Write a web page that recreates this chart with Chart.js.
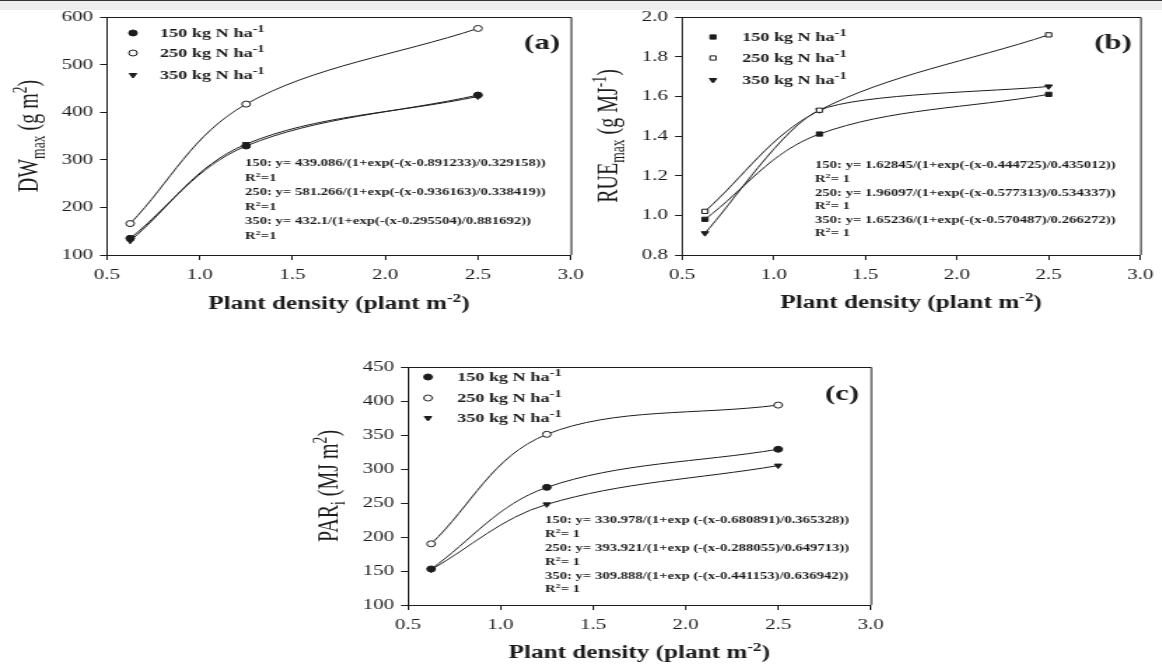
<!DOCTYPE html>
<html>
<head>
<meta charset="utf-8">
<script src="https://cdn.jsdelivr.net/npm/chart.js@4.4.0/dist/chart.umd.min.js"></script>
<style>
  html, body { margin: 0; padding: 0; background: #fff; }
  body { width: 1162px; height: 666px; position: relative; overflow: hidden; }
  .topbar { position: absolute; left: 0; top: 0; width: 1162px; height: 9px; background: #eeeeee; border-top: 1px solid #333; }
  canvas { position: absolute; transform-origin: 0 0; }
</style>
</head>
<body>
<div class="topbar"></div>
<canvas id="dw"></canvas>
<canvas id="rue"></canvas>
<canvas id="par"></canvas>
<script>
// plant density levels (plant m-2)
const density = [0.625, 1.25, 2.5];

// (a) maximum dry weight, g m-2
const dwN150 = [135, 329, 436];
const dwN250 = [166, 417, 576];
const dwN350 = [130, 333, 433];

// (b) maximum radiation use efficiency, g MJ-1
const rueN150 = [0.98, 1.41, 1.61];
const rueN250 = [1.02, 1.53, 1.91];
const rueN350 = [0.91, 1.53, 1.65];

// (c) intercepted PAR, MJ m-2
const parN150 = [153, 273, 329];
const parN250 = [190, 351, 394];
const parN350 = [152, 248, 305];

const nLabel = ['150 kg N ha', '250 kg N ha', '350 kg N ha'];

const eqA = [
  '150: y= 439.086/(1+exp(-(x-0.891233)/0.329158))',
  '250: y= 581.266/(1+exp(-(x-0.936163)/0.338419))',
  '350: y= 432.1/(1+exp(-(x-0.295504)/0.881692))'
];
const eqB = [
  '150: y= 1.62845/(1+exp(-(x-0.444725)/0.435012))',
  '250: y= 1.96097/(1+exp(-(x-0.577313)/0.534337))',
  '350: y= 1.65236/(1+exp(-(x-0.570487)/0.266272))'
];
const eqC = [
  '150: y= 330.978/(1+exp (-(x-0.680891)/0.365328))',
  '250: y= 393.921/(1+exp (-(x-0.288055)/0.649713))',
  '350: y= 309.888/(1+exp (-(x-0.441153)/0.636942))'
];

const WIDE = 1.4;   // the whole figure is drawn stretched sideways
const SERIF = '"Liberation Serif", "Times New Roman", serif';
const INK = '#1c1c1c';

// draw text made of normal / superscript / subscript pieces
function drawRich(ctx, parts, x, y, size, weight, align, small) {
  small = small || 0.68;
  const pieces = parts.map(([t, k]) => {
    const s = k === 'n' ? size : size * small;
    ctx.font = weight + ' ' + s + 'px ' + SERIF;
    return { t, k, s, w: ctx.measureText(t).width };
  });
  const total = pieces.reduce((a, p) => a + p.w, 0);
  let cx = align === 'center' ? x - total / 2 : x;
  const base = y + size * 0.33;
  ctx.textAlign = 'left';
  ctx.textBaseline = 'alphabetic';
  ctx.fillStyle = INK;
  pieces.forEach(p => {
    ctx.font = weight + ' ' + p.s + 'px ' + SERIF;
    const dy = p.k === 'sup' ? -size * 0.4 : p.k === 'sub' ? size * 0.25 : 0;
    ctx.fillText(p.t, cx, base + dy);
    cx += p.w;
  });
}

const decor = {
  id: 'decor',
  afterDraw(chart, args, o) {
    const ctx = chart.ctx;
    const a = chart.chartArea;
    const px = v => (v - o.page.x) / WIDE;
    const py = v => v - o.page.y;
    ctx.save();

    // top and right sides of the frame
    ctx.strokeStyle = INK;
    ctx.lineWidth = 1;
    ctx.beginPath();
    ctx.moveTo(a.left, a.top + 0.5);
    ctx.lineTo(a.right + 0.5, a.top + 0.5);
    ctx.lineTo(a.right + 0.5, a.bottom);
    ctx.stroke();

    // axis titles
    drawRich(ctx, [['Plant density (plant m', 'n'], ['-2', 'sup'], [')', 'n']],
      (a.left + a.right) / 2, py(o.xTitleY), 18, 'bold', 'center');
    ctx.save();
    ctx.translate(px(o.yTitleX), (a.top + a.bottom) / 2);
    ctx.rotate(-Math.PI / 2);
    drawRich(ctx, o.yTitle, 0, 0, 20, 'normal', 'center');
    ctx.restore();

    // panel letter
    drawRich(ctx, [[o.tag, 'n']], px(o.tagAt[0]), py(o.tagAt[1]), 22, 'bold', 'center');

    // legend
    chart.data.datasets.forEach((ds, i) => {
      const y = py(o.legend.rows[i]);
      ctx.fillStyle = ds.pointBackgroundColor;
      ctx.strokeStyle = INK;
      ctx.lineWidth = 1;
      Chart.helpers.drawPoint(ctx, {
        pointStyle: ds.pointStyle, rotation: ds.pointRotation || 0,
        radius: 3, borderWidth: 1
      }, px(o.legend.marker), y);
      drawRich(ctx, [[nLabel[i], 'n'], ['-1', 'sup']], px(o.legend.text), y, 13, 'bold', 'left', 0.8);
    });

    // fitted equations
    o.eq.forEach((line, i) => {
      const y0 = py(o.eqAt[1] + i * 2 * o.eqStep);
      drawRich(ctx, [[line, 'n']], px(o.eqAt[0]), y0, 10.5, 'bold', 'left');
      drawRich(ctx, [['R', 'n'], ['2', 'sup'], [o.r2, 'n']], px(o.eqAt[0]), y0 + o.eqStep, 10.5, 'bold', 'left');
    });
    ctx.restore();
  }
};

function series(values, style) {
  return {
    data: density.map((d, i) => ({ x: d, y: values[i] })),
    borderColor: INK,
    borderWidth: 1,
    tension: style.tension || 0.35,
    pointStyle: style.shape,
    pointRotation: style.rot || 0,
    pointRadius: 3,
    pointBorderWidth: 1,
    pointBorderColor: INK,
    pointBackgroundColor: style.fill
  };
}

const FULL = '#1c1c1c';
const OPEN = '#ffffff';

function panel(id, cfg) {
  const cv = document.getElementById(id);
  const w = Math.round(cfg.page.w / WIDE);
  cv.width = w;
  cv.height = cfg.page.h;
  cv.style.left = cfg.page.x + 'px';
  cv.style.top = cfg.page.y + 'px';
  cv.style.transform = 'scaleX(' + WIDE + ')';

  const yWidth = (cfg.plot.l - cfg.page.x) / WIDE;
  const xHeight = cfg.page.y + cfg.page.h - cfg.plot.b;
  const padRight = w - (cfg.plot.r - cfg.page.x) / WIDE;
  const tickFont = { family: SERIF, size: 15 };

  new Chart(cv, {
    type: 'line',
    data: { datasets: cfg.datasets },
    options: {
      responsive: false,
      animation: false,
      devicePixelRatio: 1,
      layout: { padding: { left: 0, top: cfg.plot.t - cfg.page.y, right: padRight, bottom: 0 } },
      plugins: {
        legend: { display: false },
        tooltip: { enabled: false },
        decor: Object.assign({ page: cfg.page }, cfg.decor)
      },
      scales: {
        x: {
          type: 'linear', min: 0.5, max: 3.0,
          ticks: { stepSize: 0.5, callback: v => v.toFixed(1), font: tickFont, color: INK, padding: 6, maxRotation: 0 },
          grid: { drawOnChartArea: false, tickLength: 5, color: INK },
          border: { color: INK, width: 1 },
          afterFit: s => { s.height = xHeight; }
        },
        y: {
          min: cfg.y.min, max: cfg.y.max,
          ticks: { stepSize: cfg.y.step, callback: v => v.toFixed(cfg.y.dec), font: tickFont, color: INK, padding: 5 },
          grid: { drawOnChartArea: false, tickLength: 5, color: INK },
          border: { color: INK, width: 1 },
          afterFit: s => { s.width = yWidth; }
        }
      }
    },
    plugins: [decor]
  });
}

panel('dw', {
  page: { x: 0, y: 0, w: 592, h: 330 },
  plot: { l: 107, t: 17, r: 572, b: 255 },
  y: { min: 100, max: 600, step: 100, dec: 0 },
  datasets: [
    series(dwN150, { shape: 'circle', fill: FULL }),
    series(dwN250, { shape: 'circle', fill: OPEN }),
    series(dwN350, { shape: 'triangle', rot: 180, fill: FULL })
  ],
  decor: {
    tag: '(a)', tagAt: [542, 42],
    xTitleY: 303, yTitleX: 28,
    yTitle: [['DW', 'n'], ['max', 'sub'], [' (g m', 'n'], ['2', 'sup'], [')', 'n']],
    legend: { marker: 133, text: 160, rows: [33, 53, 75] },
    eq: eqA, eqAt: [245, 163], eqStep: 14.5, r2: '=1'
  }
});

panel('rue', {
  page: { x: 578, y: 0, w: 584, h: 330 },
  plot: { l: 682, t: 17, r: 1145, b: 255 },
  y: { min: 0.8, max: 2.0, step: 0.2, dec: 1 },
  datasets: [
    series(rueN150, { shape: 'rect', fill: FULL }),
    series(rueN250, { shape: 'rect', fill: OPEN }),
    series(rueN350, { shape: 'triangle', rot: 180, fill: FULL, tension: 0.22 })
  ],
  decor: {
    tag: '(b)', tagAt: [1113, 42],
    xTitleY: 302, yTitleX: 608,
    yTitle: [['RUE', 'n'], ['max', 'sub'], [' (g MJ', 'n'], ['-1', 'sup'], [')', 'n']],
    legend: { marker: 713, text: 742, rows: [37, 58, 80] },
    eq: eqB, eqAt: [815, 165], eqStep: 13.6, r2: '= 1'
  }
});

panel('par', {
  page: { x: 300, y: 350, w: 592, h: 316 },
  plot: { l: 408, t: 367, r: 872, b: 605 },
  y: { min: 100, max: 450, step: 50, dec: 0 },
  datasets: [
    series(parN150, { shape: 'circle', fill: FULL }),
    series(parN250, { shape: 'circle', fill: OPEN }),
    series(parN350, { shape: 'triangle', rot: 180, fill: FULL })
  ],
  decor: {
    tag: '(c)', tagAt: [842, 393],
    xTitleY: 652, yTitleX: 328,
    yTitle: [['PAR', 'n'], ['i', 'sub'], [' (MJ m', 'n'], ['2', 'sup'], [')', 'n']],
    legend: { marker: 428, text: 457, rows: [377, 398, 418] },
    eq: eqC, eqAt: [545, 520], eqStep: 13.8, r2: '= 1'
  }
});
</script>
</body>
</html>
